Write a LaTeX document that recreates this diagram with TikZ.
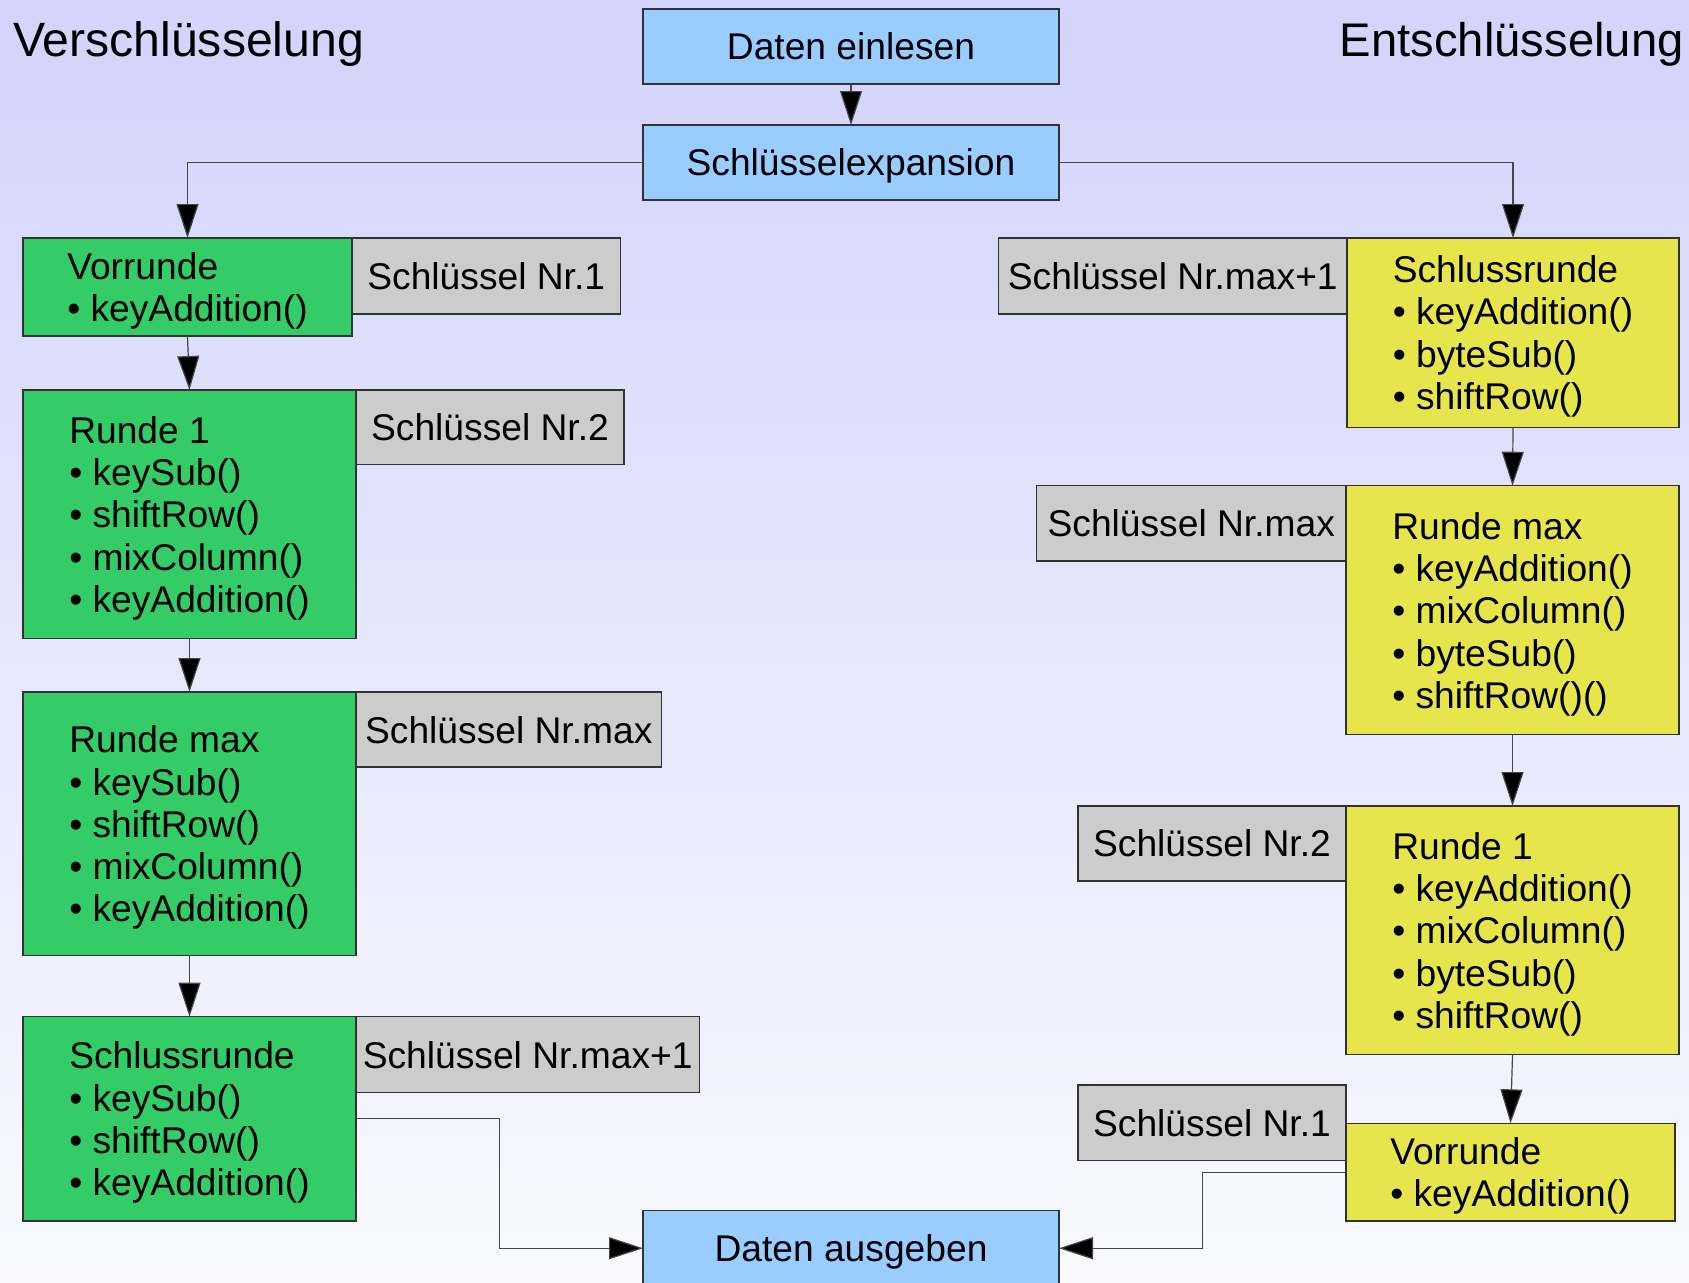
\documentclass[tikz,border=0pt]{standalone}
\usepackage{fontspec}
\setmainfont{Liberation Sans}
\usetikzlibrary{arrows.meta,calc}

\definecolor{bgtop}{RGB}{211,211,252}
\definecolor{bgbot}{RGB}{249,249,255}
\definecolor{ioblue}{RGB}{153,204,255}
\definecolor{encgreen}{RGB}{51,204,102}
\definecolor{decyellow}{RGB}{230,230,76}
\definecolor{keygray}{RGB}{204,204,204}
\definecolor{edge}{RGB}{50,50,50}
\definecolor{wire}{RGB}{70,70,70}

\tikzset{
  box/.style={draw=edge, line width=0.75pt, inner sep=0pt, outer sep=0pt,
              text depth=0pt, font=\fontsize{18.6}{21.15}\selectfont},
  iobox/.style={box, fill=ioblue, minimum width=208pt, minimum height=37.5pt, anchor=north west},
  encbox/.style={box, fill=encgreen, align=left},
  decbox/.style={box, fill=decyellow, align=left},
  keybox/.style={box, fill=keygray},
  headline/.style={inner sep=0pt, font=\fontsize{24.1}{28}\selectfont},
  flow/.style={draw=wire, line width=0.6pt,
               -{Triangle[length=17pt,width=11pt,fill=black]}},
}

\begin{document}
\begin{tikzpicture}[x=0.5pt,y=-0.5pt]
  % page and background
  \useasboundingbox (0,0) rectangle (1689,1282);
  \clip (0,0) rectangle (1689,1282);
  \fill[top color=bgtop, bottom color=bgbot] (0,0) rectangle (1689,1282);

  % headings
  \node[headline, anchor=base west] (encTitle) at (12.7,56.7) {Verschlüsselung};
  \node[headline, anchor=base east, font=\fontsize{23.6}{28}\selectfont] (decTitle) at (1684,56.7) {Entschlüsselung};

  % input / output
  \node[iobox] (read) at (643,9) {Daten einlesen};
  \node[iobox] (expand) at (643,125) {Schlüsselexpansion};
  \node[iobox] (write) at (643,1210.7) {Daten ausgeben};

  % encryption rounds with their keys
  \node[keybox, anchor=north west, minimum width=134.25pt, minimum height=38pt] (eK0) at (352,238) {Schlüssel Nr.1};
  \node[encbox, anchor=north west, minimum width=164.5pt, minimum height=49pt] (e0) at (23,238)
    {Vorrunde\\• keyAddition()};

  \node[keybox, anchor=north west, minimum width=134pt, minimum height=37.35pt] (eK1) at (356,390) {Schlüssel Nr.2};
  \node[encbox, anchor=north west, minimum width=166.5pt, minimum height=124.3pt] (e1) at (23,390)
    {Runde 1\\• keySub()\\• shiftRow()\\• mixColumn()\\• keyAddition()};

  \node[keybox, anchor=north west, minimum width=152.8pt, minimum height=37.5pt] (eK2) at (356,692) {Schlüssel Nr.max};
  \node[encbox, anchor=north west, minimum width=166.5pt, minimum height=131.8pt] (e2) at (23,692)
    {Runde max\\• keySub()\\• shiftRow()\\• mixColumn()\\• keyAddition()};

  \node[keybox, anchor=north west, minimum width=171.7pt, minimum height=38pt] (eK3) at (356,1016.7) {Schlüssel Nr.max+1};
  \node[encbox, anchor=north west, minimum width=166.5pt, minimum height=102.15pt] (e3) at (23,1016.7)
    {Schlussrunde\\• keySub()\\• shiftRow()\\• keyAddition()};

  % decryption rounds with their keys
  \node[keybox, anchor=north east, minimum width=174.2pt, minimum height=38pt] (dK0) at (1347,238) {Schlüssel Nr.max+1};
  \node[decbox, anchor=north west, minimum width=166pt, minimum height=94.65pt] (d0) at (1347,238)
    {Schlussrunde\\• keyAddition()\\• byteSub()\\• shiftRow()};

  \node[keybox, anchor=north east, minimum width=154.75pt, minimum height=37.55pt] (dK1) at (1346,485.7) {Schlüssel Nr.max};
  \node[decbox, anchor=north west, minimum width=166.5pt, minimum height=124.5pt] (d1) at (1346,485.7)
    {Runde max\\• keyAddition()\\• mixColumn()\\• byteSub()\\• shiftRow()()};

  \node[keybox, anchor=north east, minimum width=134pt, minimum height=37.4pt] (dK2) at (1346,806) {Schlüssel Nr.2};
  \node[decbox, anchor=north west, minimum width=166.5pt, minimum height=124.35pt] (d2) at (1346,806)
    {Runde 1\\• keyAddition()\\• mixColumn()\\• byteSub()\\• shiftRow()};

  \node[keybox, anchor=north east, minimum width=134pt, minimum height=37.85pt] (dK3) at (1346,1085) {Schlüssel Nr.1};
  \node[decbox, anchor=north west, minimum width=164.5pt, minimum height=48.85pt] (d3) at (1346,1123.3)
    {Vorrunde\\• keyAddition()};

  % connectors
  \draw[flow] (read.south) -- (expand.north);
  \draw[flow] (expand.west) -| (e0.north);
  \draw[flow] (expand.east) -| (d0.north);

  \draw[flow] (e0.south) -- (e1.north);
  \draw[flow] (e1.south) -- (e2.north);
  \draw[flow] (e2.south) -- (e3.north);
  \draw[flow] (e3.east) -| ($(e3.east)!.5!(write.west)$) |- (write.west);

  \draw[flow] (d0.south) -- (d1.north);
  \draw[flow] (d1.south) -- (d2.north);
  \draw[flow] (d2.south) -- (d3.north);
  \draw[flow] (d3.west) -| ($(d3.west)!.5!(write.east)$) |- (write.east);
\end{tikzpicture}
\end{document}
